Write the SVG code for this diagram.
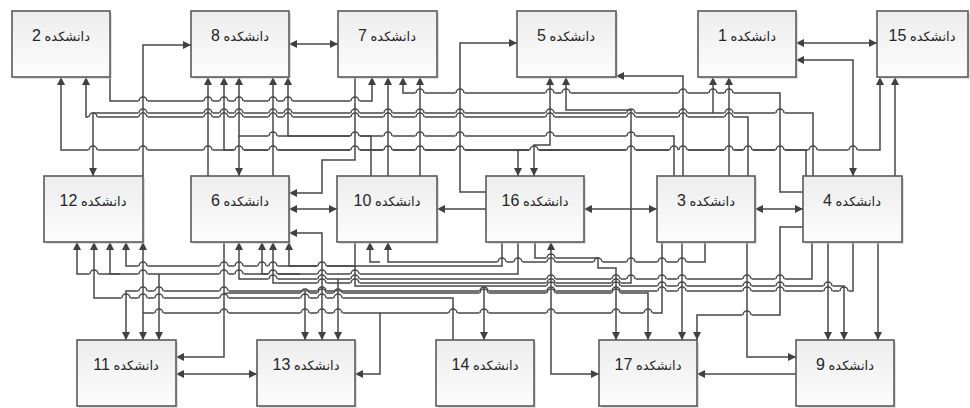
<svg xmlns="http://www.w3.org/2000/svg" width="970" height="408" viewBox="0 0 970 408">
<defs>
<linearGradient id="bg" x1="0" y1="0" x2="0" y2="1">
<stop offset="0" stop-color="#ededed"/>
<stop offset="1" stop-color="#fdfdfd"/>
</linearGradient>
<marker id="ah" viewBox="0 0 10 10" refX="10" refY="5" markerWidth="9" markerHeight="8" markerUnits="userSpaceOnUse" orient="auto-start-reverse">
<path d="M0,0 L10,5 L0,10 z" fill="#404040"/>
</marker>
<g id="hop">
<rect x="-4.6" y="-1.3" width="9.2" height="2.6" fill="#ffffff"/>
<path d="M0,-1.5 V1.5" stroke="#474747" stroke-width="1.5"/>
<path d="M-4,0 A4,4 0 0 1 4,0" fill="none" stroke="#474747" stroke-width="1.5"/>
</g>
</defs>
<style>
.box rect.b{fill:url(#bg);stroke:#5a5a5a;stroke-width:1.6}
.box rect.sh{fill:#c8c8c8;opacity:0.6}
.box text{font-family:'Liberation Sans','DejaVu Sans',sans-serif;font-size:13px;fill:#262626;text-anchor:middle;direction:rtl}
.box tspan{font-size:16px}
.c{fill:none;stroke:#474747;stroke-width:1.5}
.e{marker-end:url(#ah)}
.s{marker-start:url(#ah)}
</style>
<rect width="970" height="408" fill="#ffffff"/>
<g id="connectors">
<path class="c s e" d="M289,44 H338"/>
<path class="c s e" d="M796,43 H877"/>
<path class="c e" d="M143,176 V45 H191"/>
<path class="c e" d="M486,192 H460 V43 H517"/>
<path class="c e" d="M683,176 V76 H616"/>
<path class="c s e" d="M853,176 V60 H796"/>
<path class="c e" d="M895,176 V77"/>
<path class="c e" d="M803,192 H780 V93 H403 V77"/>
<path class="c e" d="M355,77 V160 H322 V193 H289"/>
<path class="c e" d="M110,77 V101 H372 V77"/>
<path class="c e" d="M208,176 V77"/>
<path class="c e" d="M273,176 V77"/>
<path class="c e" d="M371,176 V136 H288 V77"/>
<path class="c e" d="M388,176 V77"/>
<path class="c e" d="M420,176 V77"/>
<path class="c s e" d="M61,77 V150 H880 V77"/>
<path class="c e" d="M806,176 V150 H224 V77"/>
<path class="c e" d="M674,176 V136 H239 V77"/>
<path class="c e" d="M239,136 V176"/>
<path class="c e" d="M729,176 V77"/>
<path class="c e" d="M813,176 V113 H93 V176"/>
<path class="c e" d="M713,113 V77"/>
<path class="c e" d="M748,176 V117 H86 V77"/>
<path class="c s e" d="M550,77 V145 H534 V176"/>
<path class="c e" d="M560,150 H518 V176"/>
<path class="c s e" d="M566,77 V110 H631 V283 H273 V242"/>
<path class="c s e" d="M289,209 H337"/>
<path class="c e" d="M486,209 H437"/>
<path class="c s e" d="M584,209 H657"/>
<path class="c s e" d="M755,209 H803"/>
<path class="c s e" d="M289,233 H322 V340"/>
<path class="c s e" d="M176,374 H257"/>
<path class="c e" d="M796,374 H697"/>
<path class="c s e" d="M551,242 V374 H599"/>
<path class="c e" d="M747,242 V357 H796"/>
<path class="c e" d="M803,227 H780 V315 H697 V340"/>
<path class="c e" d="M682,242 V340"/>
<path class="c e" d="M828,242 V340"/>
<path class="c e" d="M878,242 V340"/>
<path class="c e" d="M224,242 V357 H176"/>
<path class="c s e" d="M143,242 V340"/>
<path class="c e" d="M662,242 V313 H380 V374 H355"/>
<path class="c" d="M380,313 H143"/>
<path class="c e" d="M453,340 V298 H94 V242"/>
<path class="c e" d="M502,242 V266 H289 V242"/>
<path class="c e" d="M518,242 V274 H77 V242"/>
<path class="c e" d="M300,274 H262 V242"/>
<path class="c e" d="M120,274 H110 V242"/>
<path class="c e" d="M159,274 V340"/>
<path class="c e" d="M535,242 V258 H598 V268 H616 V340"/>
<path class="c e" d="M705,242 V262 H388 V242"/>
<path class="c e" d="M380,262 H370 V242"/>
<path class="c e" d="M812,242 V279 H239 V242"/>
<path class="c e" d="M338,279 V340"/>
<path class="c e" d="M853,242 V291 H126 V340"/>
<path class="c e" d="M305,291 V340"/>
<path class="c e" d="M355,242 V266 H126 V242"/>
<path class="c e" d="M355,266 V286 H844 V340"/>
<path class="c e" d="M484,286 V340"/>
<path class="c e" d="M224,293 H648 V340"/>
<g id="hops">
<use href="#hop" x="420" y="93"/><use href="#hop" x="460" y="93"/><use href="#hop" x="550" y="93"/><use href="#hop" x="566" y="93"/><use href="#hop" x="683" y="93"/><use href="#hop" x="713" y="93"/><use href="#hop" x="729" y="93"/>
<use href="#hop" x="143" y="101"/><use href="#hop" x="208" y="101"/><use href="#hop" x="224" y="101"/><use href="#hop" x="239" y="101"/><use href="#hop" x="273" y="101"/><use href="#hop" x="288" y="101"/><use href="#hop" x="355" y="101"/>
<use href="#hop" x="273" y="136"/><use href="#hop" x="355" y="136"/><use href="#hop" x="388" y="136"/><use href="#hop" x="420" y="136"/><use href="#hop" x="460" y="136"/><use href="#hop" x="550" y="136"/><use href="#hop" x="631" y="136"/>
<use href="#hop" x="93" y="150"/><use href="#hop" x="143" y="150"/><use href="#hop" x="208" y="150"/><use href="#hop" x="239" y="150"/><use href="#hop" x="273" y="150"/><use href="#hop" x="355" y="150"/><use href="#hop" x="388" y="150"/><use href="#hop" x="420" y="150"/><use href="#hop" x="460" y="150"/><use href="#hop" x="534" y="150"/><use href="#hop" x="631" y="150"/><use href="#hop" x="674" y="150"/><use href="#hop" x="683" y="150"/><use href="#hop" x="729" y="150"/><use href="#hop" x="748" y="150"/><use href="#hop" x="780" y="150"/><use href="#hop" x="813" y="150"/><use href="#hop" x="853" y="150"/>
<use href="#hop" x="143" y="113"/><use href="#hop" x="208" y="113"/><use href="#hop" x="224" y="113"/><use href="#hop" x="239" y="113"/><use href="#hop" x="273" y="113"/><use href="#hop" x="288" y="113"/><use href="#hop" x="355" y="113"/><use href="#hop" x="388" y="113"/><use href="#hop" x="420" y="113"/><use href="#hop" x="460" y="113"/><use href="#hop" x="550" y="113"/><use href="#hop" x="631" y="113"/><use href="#hop" x="683" y="113"/><use href="#hop" x="729" y="113"/><use href="#hop" x="780" y="113"/>
<use href="#hop" x="93" y="117"/><use href="#hop" x="143" y="117"/><use href="#hop" x="208" y="117"/><use href="#hop" x="224" y="117"/><use href="#hop" x="239" y="117"/><use href="#hop" x="273" y="117"/><use href="#hop" x="288" y="117"/><use href="#hop" x="355" y="117"/><use href="#hop" x="388" y="117"/><use href="#hop" x="420" y="117"/><use href="#hop" x="460" y="117"/><use href="#hop" x="550" y="117"/><use href="#hop" x="631" y="117"/><use href="#hop" x="683" y="117"/><use href="#hop" x="729" y="117"/>
<use href="#hop" x="143" y="266"/><use href="#hop" x="224" y="266"/><use href="#hop" x="239" y="266"/><use href="#hop" x="262" y="266"/><use href="#hop" x="273" y="266"/><use href="#hop" x="322" y="266"/>
<use href="#hop" x="94" y="274"/><use href="#hop" x="143" y="274"/><use href="#hop" x="224" y="274"/><use href="#hop" x="239" y="274"/><use href="#hop" x="273" y="274"/><use href="#hop" x="322" y="274"/><use href="#hop" x="355" y="274"/>
<use href="#hop" x="551" y="258"/>
<use href="#hop" x="502" y="262"/><use href="#hop" x="518" y="262"/><use href="#hop" x="551" y="262"/><use href="#hop" x="598" y="262"/><use href="#hop" x="631" y="262"/><use href="#hop" x="662" y="262"/><use href="#hop" x="682" y="262"/>
<use href="#hop" x="273" y="279"/><use href="#hop" x="322" y="279"/><use href="#hop" x="355" y="279"/><use href="#hop" x="551" y="279"/><use href="#hop" x="616" y="279"/><use href="#hop" x="631" y="279"/><use href="#hop" x="662" y="279"/><use href="#hop" x="682" y="279"/><use href="#hop" x="747" y="279"/><use href="#hop" x="780" y="279"/>
<use href="#hop" x="322" y="283"/><use href="#hop" x="355" y="283"/><use href="#hop" x="551" y="283"/><use href="#hop" x="616" y="283"/>
<use href="#hop" x="551" y="286"/><use href="#hop" x="616" y="286"/><use href="#hop" x="662" y="286"/><use href="#hop" x="682" y="286"/><use href="#hop" x="747" y="286"/><use href="#hop" x="780" y="286"/><use href="#hop" x="828" y="286"/>
<use href="#hop" x="143" y="291"/><use href="#hop" x="159" y="291"/><use href="#hop" x="224" y="291"/><use href="#hop" x="322" y="291"/><use href="#hop" x="484" y="291"/><use href="#hop" x="551" y="291"/><use href="#hop" x="616" y="291"/><use href="#hop" x="662" y="291"/><use href="#hop" x="682" y="291"/><use href="#hop" x="747" y="291"/><use href="#hop" x="780" y="291"/><use href="#hop" x="828" y="291"/><use href="#hop" x="844" y="291"/>
<use href="#hop" x="305" y="293"/><use href="#hop" x="322" y="293"/><use href="#hop" x="338" y="293"/><use href="#hop" x="484" y="293"/><use href="#hop" x="551" y="293"/><use href="#hop" x="616" y="293"/>
<use href="#hop" x="126" y="298"/><use href="#hop" x="143" y="298"/><use href="#hop" x="159" y="298"/><use href="#hop" x="224" y="298"/><use href="#hop" x="305" y="298"/><use href="#hop" x="322" y="298"/><use href="#hop" x="338" y="298"/>
<use href="#hop" x="159" y="313"/><use href="#hop" x="224" y="313"/><use href="#hop" x="305" y="313"/><use href="#hop" x="322" y="313"/><use href="#hop" x="338" y="313"/><use href="#hop" x="453" y="313"/><use href="#hop" x="484" y="313"/><use href="#hop" x="551" y="313"/><use href="#hop" x="616" y="313"/><use href="#hop" x="648" y="313"/>
<use href="#hop" x="747" y="315"/>
</g>
</g>
<g id="n2" class="box"><rect class="sh" x="14" y="13" width="98" height="66"/><rect class="b" x="12" y="11" width="98" height="66"/><text x="61" y="41">دانشکده <tspan>2</tspan></text></g>
<g id="n8" class="box"><rect class="sh" x="193" y="13" width="98" height="66"/><rect class="b" x="191" y="11" width="98" height="66"/><text x="240" y="41">دانشکده <tspan>8</tspan></text></g>
<g id="n7" class="box"><rect class="sh" x="340" y="13" width="99" height="66"/><rect class="b" x="338" y="11" width="99" height="66"/><text x="387" y="41">دانشکده <tspan>7</tspan></text></g>
<g id="n5" class="box"><rect class="sh" x="519" y="13" width="99" height="66"/><rect class="b" x="517" y="11" width="99" height="66"/><text x="566" y="41">دانشکده <tspan>5</tspan></text></g>
<g id="n1" class="box"><rect class="sh" x="700" y="13" width="98" height="66"/><rect class="b" x="698" y="11" width="98" height="66"/><text x="747" y="41">دانشکده <tspan>1</tspan></text></g>
<g id="n15" class="box"><rect class="sh" x="879" y="13" width="91" height="66"/><rect class="b" x="877" y="11" width="91" height="66"/><text x="922" y="41">دانشکده <tspan>15</tspan></text></g>
<g id="n12" class="box"><rect class="sh" x="46" y="178" width="99" height="66"/><rect class="b" x="44" y="176" width="99" height="66"/><text x="93" y="206">دانشکده <tspan>12</tspan></text></g>
<g id="n6" class="box"><rect class="sh" x="193" y="178" width="98" height="66"/><rect class="b" x="191" y="176" width="98" height="66"/><text x="240" y="206">دانشکده <tspan>6</tspan></text></g>
<g id="n10" class="box"><rect class="sh" x="339" y="178" width="100" height="66"/><rect class="b" x="337" y="176" width="100" height="66"/><text x="387" y="206">دانشکده <tspan>10</tspan></text></g>
<g id="n16" class="box"><rect class="sh" x="488" y="178" width="98" height="66"/><rect class="b" x="486" y="176" width="98" height="66"/><text x="535" y="206">دانشکده <tspan>16</tspan></text></g>
<g id="n3" class="box"><rect class="sh" x="659" y="178" width="98" height="66"/><rect class="b" x="657" y="176" width="98" height="66"/><text x="706" y="206">دانشکده <tspan>3</tspan></text></g>
<g id="n4" class="box"><rect class="sh" x="805" y="178" width="99" height="66"/><rect class="b" x="803" y="176" width="99" height="66"/><text x="852" y="206">دانشکده <tspan>4</tspan></text></g>
<g id="n11" class="box"><rect class="sh" x="79" y="342" width="99" height="66"/><rect class="b" x="77" y="340" width="99" height="66"/><text x="126" y="370">دانشکده <tspan>11</tspan></text></g>
<g id="n13" class="box"><rect class="sh" x="259" y="342" width="98" height="66"/><rect class="b" x="257" y="340" width="98" height="66"/><text x="306" y="370">دانشکده <tspan>13</tspan></text></g>
<g id="n14" class="box"><rect class="sh" x="438" y="342" width="98" height="66"/><rect class="b" x="436" y="340" width="98" height="66"/><text x="485" y="370">دانشکده <tspan>14</tspan></text></g>
<g id="n17" class="box"><rect class="sh" x="601" y="342" width="98" height="66"/><rect class="b" x="599" y="340" width="98" height="66"/><text x="648" y="370">دانشکده <tspan>17</tspan></text></g>
<g id="n9" class="box"><rect class="sh" x="798" y="342" width="98" height="66"/><rect class="b" x="796" y="340" width="98" height="66"/><text x="845" y="370">دانشکده <tspan>9</tspan></text></g>
</svg>
